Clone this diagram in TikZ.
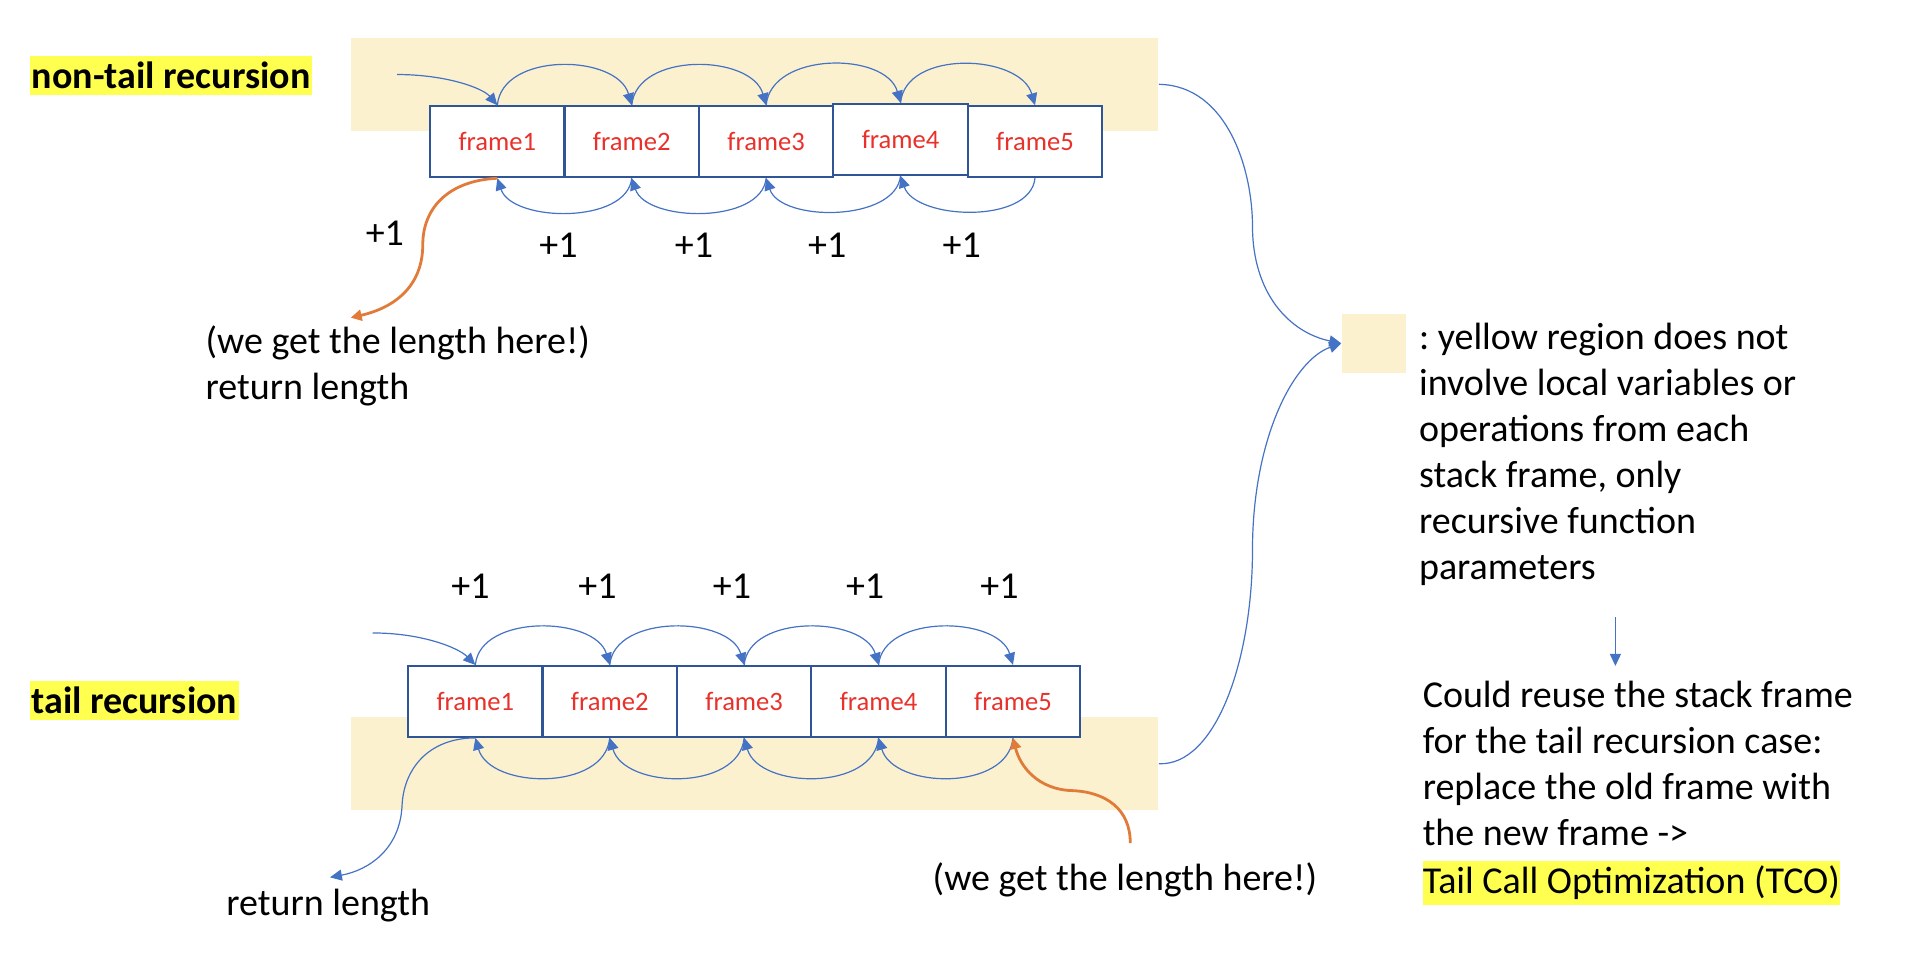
\documentclass[tikz,border=0pt]{standalone}
\usepackage{fontspec}
\setmainfont{Carlito}
\usetikzlibrary{arrows.meta}
\definecolor{bandyellow}{HTML}{FCF1CF}
\definecolor{hiyellow}{HTML}{FFFF50}
\definecolor{framebd}{HTML}{2F5597}
\definecolor{framered}{HTML}{E8312A}
\definecolor{arrblue}{HTML}{4472C4}
\definecolor{arrorange}{HTML}{E07B39}
\frenchspacing
\tikzset{
  band/.style={fill=bandyellow, draw=none, minimum width=403.9pt, minimum height=46.4pt, inner sep=0pt},
  frm/.style={draw=framebd, line width=1.1pt, fill=white, minimum width=67.2pt, minimum height=35.4pt, inner sep=0pt, text=framered, font=\fontsize{13.3}{15}\selectfont},
  txt/.style={font=\fontsize{19}{23}\selectfont, inner sep=0pt, align=left},
  plus/.style={font=\fontsize{19}{23}\selectfont, inner sep=0pt},
  hl/.style={fill=hiyellow, font=\bfseries\fontsize{19}{22}\selectfont, inner xsep=1pt, inner ysep=3pt},
  barr/.style={draw=arrblue, line width=0.6pt, -{Triangle[length=6pt,width=5.5pt]}},
  oarr/.style={draw=arrorange, line width=1.4pt, -{Triangle[length=5.5pt,width=5.5pt]}}
}
\begin{document}
\begin{tikzpicture}[x=0.611pt,y=-0.611pt]
\useasboundingbox (0,0) rectangle (1568,795);
% bands
\node[band] (band1) at (617.5,69) {};
\node[band] (band2) at (617.5,625) {};
\node[fill=bandyellow, minimum width=32.4pt, minimum height=29.3pt, inner sep=0pt] (key) at (1124.5,281) {};
% labels
\node[hl] (lnt) at (140,62) {non-tail recursion};
\node[hl] (lt) at (110,573) {tail recursion};
% top frames
\node[frm] (a1) at (407,116) {frame1};
\node[frm] (a2) at (517,116) {frame2};
\node[frm] (a3) at (627,116) {frame3};
\node[frm] (a4) at (737,114) {frame4};
\node[frm] (a5) at (847,116) {frame5};
% bottom frames
\node[frm] (b1) at (389,574) {frame1};
\node[frm] (b2) at (499,574) {frame2};
\node[frm] (b3) at (609,574) {frame3};
\node[frm] (b4) at (719,574) {frame4};
\node[frm] (b5) at (829,574) {frame5};
% top arcs
\coordinate (ina) at (325,61);
\draw[barr] (ina) .. controls (365,61) and (395,72) .. (a1.north);
\foreach \i/\j in {a1/a2,a2/a3,a3/a4,a4/a5}{
  \draw[barr] (\i.north) .. controls +(4,-44) and +(-12,-42) .. (\j.north);
}
\foreach \i/\j in {a2/a1,a3/a2,a4/a3,a5/a4}{
  \draw[barr] (\i.south) .. controls +(-4,38) and +(12,36) .. (\j.south);
}
\node[plus] (p0) at (315,191) {+1};
\node[plus] (p1) at (457,201) {+1};
\node[plus] (p2) at (568,201) {+1};
\node[plus] (p3) at (677,201) {+1};
\node[plus] (p4) at (787,201) {+1};
\coordinate (oa) at (287,260);
\draw[oarr] (a1.south) .. controls (365,148) and (346,172) .. (346,200) .. controls (346,235) and (322,252) .. (oa);
\node[txt, anchor=north west] (t1) at (168,266) {(we get the length here!)\\return length};
% bottom arcs
\coordinate (inb) at (305,518);
\draw[barr] (inb) .. controls (345,518) and (375,530) .. (b1.north);
\foreach \i/\j in {b1/b2,b2/b3,b3/b4,b4/b5}{
  \draw[barr] (\i.north) .. controls +(4,-42) and +(-12,-40) .. (\j.north);
}
\foreach \i/\j in {b2/b1,b3/b2,b4/b3,b5/b4}{
  \draw[barr] (\i.south) .. controls +(-4,44) and +(12,42) .. (\j.south);
}
\node[plus] (q1) at (385,480) {+1};
\node[plus] (q2) at (489,480) {+1};
\node[plus] (q3) at (599,480) {+1};
\node[plus] (q4) at (708,480) {+1};
\node[plus] (q5) at (818,480) {+1};
\coordinate (rl) at (270,718);
\draw[barr] (b1.south) .. controls (350,604) and (330,630) .. (329,660) .. controls (327,695) and (302,712) .. (rl);
\node[txt, anchor=north west] (t2) at (185,727) {return length};
\coordinate (ob) at (925,690);
\draw[oarr] (ob) .. controls (925,662) and (905,648) .. (877,647) .. controls (850,646) and (835,628) .. (b5.south);
\node[txt, anchor=north west] (t3) at (763,706) {(we get the length here!)};
% right side
\draw[barr] (band1.east) .. controls (1005,70) and (1025,140) .. (1025,185) .. controls (1025,240) and (1055,272) .. (key.west);
\draw[barr] (band2.east) .. controls (995,627) and (1025,540) .. (1025,450) .. controls (1025,360) and (1058,295) .. (key.west);
\node[txt, anchor=north west] (desc) at (1161,264) {: yellow region does not\\involve local variables or\\operations from each\\stack frame, only\\recursive function\\parameters};
\coordinate (da) at (1322,505);
\coordinate (db) at (1322,545);
\draw[barr] (da) -- (db);
\node[txt, anchor=north west] (reuse) at (1164,557) {Could reuse the stack frame\\for the tail recursion case:\\replace the old frame with\\the new frame ->};
\node[fill=hiyellow, font=\fontsize{19}{23}\selectfont, inner xsep=0pt, inner ysep=2.5pt, anchor=north west] (tco) at (1164,704) {Tail Call Optimization (TCO)};
\end{tikzpicture}
\end{document}
